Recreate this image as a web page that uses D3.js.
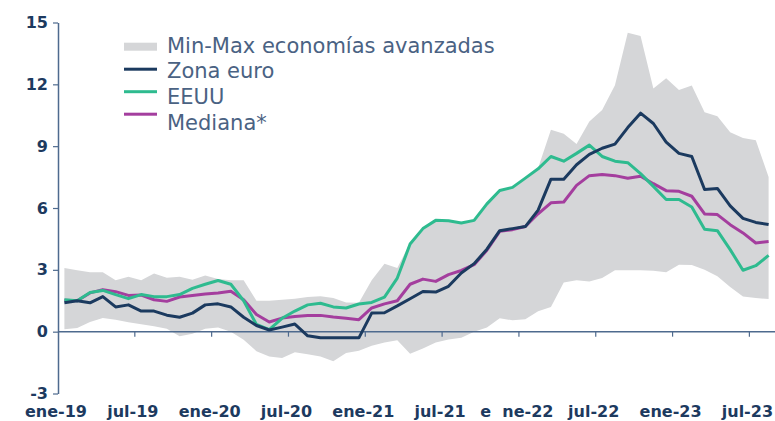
<html>
<head>
<meta charset="utf-8">
<title>Inflación economías avanzadas</title>
<style>
  body { margin: 0; background: #fff; font-family: 'DejaVu Sans', sans-serif; }
  .tick-label { white-space: pre; }
</style>
</head>
<body>
<div id="chart-holder"></div>
<script src="https://d3js.org/d3.v7.min.js"></script>
<script>
// categories (one per month, ene-19 .. ago-23)
var months = [
  '2019-01','2019-02','2019-03','2019-04','2019-05','2019-06','2019-07','2019-08','2019-09','2019-10','2019-11','2019-12',
  '2020-01','2020-02','2020-03','2020-04','2020-05','2020-06','2020-07','2020-08','2020-09','2020-10','2020-11','2020-12',
  '2021-01','2021-02','2021-03','2021-04','2021-05','2021-06','2021-07','2021-08','2021-09','2021-10','2021-11','2021-12',
  '2022-01','2022-02','2022-03','2022-04','2022-05','2022-06','2022-07','2022-08','2022-09','2022-10','2022-11','2022-12',
  '2023-01','2023-02','2023-03','2023-04','2023-05','2023-06','2023-07','2023-08'
];
var tickMonths = ['2019-01','2019-07','2020-01','2020-07','2021-01','2021-07','2022-01','2022-07','2023-01','2023-07'];
var tickLabels = ['ene-19','jul-19','ene-20','jul-20','ene-21','jul-21','e  ne-22','jul-22','ene-23','jul-23'];
var yTicks = [-3, 0, 3, 6, 9, 12, 15];

// series
var zonaEuro = [
  1.4, 1.5, 1.4, 1.7, 1.2, 1.3, 1.0, 1.0, 0.8, 0.7, 0.9, 1.3,
  1.35, 1.2, 0.7, 0.3, 0.08, 0.22, 0.37, -0.2, -0.3, -0.3, -0.3, -0.3,
  0.9, 0.92, 1.25, 1.6, 1.95, 1.92, 2.2, 2.85, 3.3, 4.0, 4.9, 5.0,
  5.1, 5.9, 7.4, 7.4, 8.1, 8.6, 8.9, 9.1, 9.9, 10.6, 10.1, 9.2,
  8.65, 8.5, 6.9, 6.95, 6.1, 5.5, 5.3, 5.2
];
var eeuu = [
  1.55, 1.5, 1.9, 2.0, 1.8, 1.6, 1.8, 1.7, 1.7, 1.8, 2.1, 2.3,
  2.48, 2.3, 1.5, 0.35, 0.1, 0.65, 1.0, 1.3, 1.38, 1.2, 1.15, 1.34,
  1.42, 1.68, 2.6, 4.25, 5.0, 5.4, 5.38, 5.27, 5.4, 6.2, 6.85, 7.0,
  7.45, 7.9, 8.5, 8.27, 8.65, 9.05, 8.5, 8.27, 8.2, 7.67, 7.05, 6.41,
  6.41, 6.05, 4.97, 4.9, 3.98, 2.98, 3.2, 3.7
];
var mediana = [
  1.52, 1.5, 1.88, 2.04, 1.94, 1.76, 1.78, 1.55, 1.47, 1.68, 1.76, 1.83,
  1.88, 1.96, 1.55, 0.83, 0.47, 0.66, 0.74, 0.78, 0.79, 0.71, 0.65, 0.58,
  1.15, 1.35, 1.5, 2.3, 2.55, 2.44, 2.77, 2.97, 3.25, 3.95, 4.87, 4.95,
  5.1, 5.72, 6.25, 6.29, 7.1, 7.57, 7.62, 7.57, 7.44, 7.54, 7.18, 6.84,
  6.81, 6.57, 5.71, 5.68, 5.19, 4.79, 4.3, 4.37
];
var maxAvanzadas = [
  3.09, 2.98, 2.88, 2.88, 2.5, 2.67, 2.5, 2.82, 2.62, 2.67, 2.52, 2.72,
  2.55, 2.5, 2.5, 1.5, 1.5, 1.55, 1.6, 1.68, 1.72, 1.63, 1.42, 1.4,
  2.5, 3.3, 3.09, 4.3, 5.03, 5.4, 5.38, 5.3, 5.4, 6.2, 6.86, 7.02,
  7.46, 7.94, 9.8, 9.6, 9.1, 10.2, 10.76, 11.95, 14.5, 14.34, 11.8, 12.3,
  11.72, 11.94, 10.65, 10.45, 9.68, 9.4, 9.29, 7.5
];
var minAvanzadas = [
  0.12, 0.18, 0.47, 0.66, 0.58, 0.46, 0.36, 0.26, 0.14, -0.22, -0.1, 0.14,
  0.2, 0.0, -0.39, -0.95, -1.2, -1.28, -1.0, -1.1, -1.2, -1.44, -1.04, -0.92,
  -0.68, -0.52, -0.42, -1.07, -0.82, -0.53, -0.38, -0.3, 0.0, 0.2, 0.65, 0.55,
  0.6, 0.99, 1.2, 2.39, 2.49, 2.43, 2.6, 2.98, 2.98, 2.98, 2.95, 2.88,
  3.25, 3.24, 3.01, 2.69, 2.17, 1.71, 1.63, 1.58
];
var legendLabels = ['Min-Max economías avanzadas', 'Zona euro', 'EEUU', 'Mediana*'];

var width = 775;
var height = 421;
var axisColor = '#4e6a8e';
var textColor = '#1d3a5f';
var colors = {band: '#d5d6d8', euro: '#1b3a5f', us: '#2ebb8f', med: '#a43e9e'};

var svg = d3.select('#chart-holder')
  .append('svg')
  .attr('width', width)
  .attr('height', height);

// scales
var x = d3.scaleBand()
  .domain(months)
  .range([58, 775])
  .padding(0);

var y = d3.scaleLinear()
  .domain([-3, 15])
  .range([393.5, 22.5]);

function cx(i) {
  return x(months[i]) + x.bandwidth() / 2;
}

// min-max band
var area = d3.area()
  .x(function(d, i) { return cx(i); })
  .y0(function(d, i) { return y(minAvanzadas[i]); })
  .y1(function(d, i) { return y(maxAvanzadas[i]); });

svg.append('path')
  .datum(months)
  .attr('fill', colors.band)
  .attr('d', area);

// y axis (plain hyphen for negatives, as in the source)
var yAxis = d3.axisLeft(y)
  .tickValues(yTicks)
  .tickFormat(function(d) { return String(d); })
  .tickSize(5)
  .tickSizeOuter(0)
  .tickPadding(5);

var yg = svg.append('g')
  .attr('transform', 'translate(58,0)')
  .call(yAxis);
yg.select('.domain').attr('stroke', axisColor).attr('stroke-width', 1.5);
yg.selectAll('.tick line').attr('stroke', axisColor).attr('stroke-width', 1.2);
yg.selectAll('.tick text')
  .attr('fill', textColor)
  .style('font-family', "'DejaVu Sans', sans-serif")
  .style('font-weight', 'bold')
  .style('font-size', '16px');

// x axis line at zero
svg.append('line')
  .attr('x1', 58)
  .attr('x2', 775)
  .attr('y1', y(0))
  .attr('y2', y(0))
  .attr('stroke', axisColor)
  .attr('stroke-width', 1.5);

svg.selectAll('.x-tick')
  .data(tickMonths.slice(1))
  .enter()
  .append('line')
  .attr('class', 'x-tick')
  .attr('x1', function(d) { return x(d); })
  .attr('x2', function(d) { return x(d); })
  .attr('y1', y(0))
  .attr('y2', y(0) + 5)
  .attr('stroke', axisColor)
  .attr('stroke-width', 1.2);

// x labels at the bottom
svg.selectAll('.tick-label')
  .data(tickMonths)
  .enter()
  .append('text')
  .attr('class', 'tick-label')
  .attr('x', function(d) { return x(d) - 2; })
  .attr('y', 417)
  .attr('text-anchor', 'middle')
  .attr('fill', textColor)
  .style('font-weight', 'bold')
  .style('font-size', '16px')
  .text(function(d, i) { return tickLabels[i]; });

// lines
var line = d3.line()
  .x(function(d, i) { return cx(i); })
  .y(function(d) { return y(d); });

var series = [
  {values: mediana, color: colors.med},
  {values: eeuu, color: colors.us},
  {values: zonaEuro, color: colors.euro}
];

svg.selectAll('.serie')
  .data(series)
  .enter()
  .append('path')
  .attr('class', 'serie')
  .attr('fill', 'none')
  .attr('stroke', function(d) { return d.color; })
  .attr('stroke-width', 3)
  .attr('stroke-linejoin', 'round')
  .attr('d', function(d) { return line(d.values); });

// legend
var legendColors = [colors.band, colors.euro, colors.us, colors.med];
var legend = svg.append('g');

legend.selectAll('rect')
  .data(legendLabels)
  .enter()
  .append('rect')
  .attr('x', 124)
  .attr('y', function(d, i) { return 46.7 + i * 22.5 - (i === 0 ? 4 : 1.5); })
  .attr('width', 33)
  .attr('height', function(d, i) { return i === 0 ? 8 : 3; })
  .attr('fill', function(d, i) { return legendColors[i]; });

legend.selectAll('text')
  .data(legendLabels)
  .enter()
  .append('text')
  .attr('x', 167)
  .attr('y', function(d, i) { return 52.7 + i * 25.6; })
  .attr('fill', '#4a6283')
  .style('font-size', '21px')
  .text(function(d) { return d; });
</script>
</body>
</html>
